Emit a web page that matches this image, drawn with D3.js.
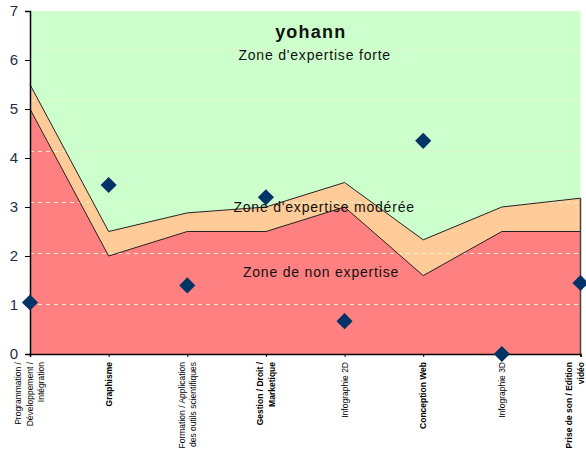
<!DOCTYPE html>
<html><head><meta charset="utf-8">
<script src="https://cdn.jsdelivr.net/npm/d3@7/dist/d3.min.js"></script>
<style>body{margin:0;background:#fff}svg{display:block;font-family:"Liberation Sans",Arial,sans-serif}</style>
</head><body><svg id="c" width="586" height="459"></svg>
<script>
const categories = [
  ["Programmation /","Développement /","Intégration"],
  ["Graphisme"],
  ["Formation / Application","des outils scientifiques"],
  ["Gestion / Droit /","Marketique"],
  ["Infographie 2D"],
  ["Conception Web"],
  ["Infographie 3D"],
  ["Prise de son / Edition","vidéo"]
];
const boldLabels = [false, true, false, true, false, true, false, true];
const nonExpertise = [5.0, 2.0, 2.5, 2.5, 3.0, 1.6, 2.5, 2.5];
const moderate = [5.5, 2.5, 2.88, 3.0, 3.5, 2.33, 3.0, 3.18];
const scores = [1.05, 3.45, 1.4, 3.2, 0.67, 4.35, 0.0, 1.45];
const yTicks = [0,1,2,3,4,5,6,7];
const gridValues = [1.02, 2.06, 3.1, 4.14, 5.18, 6.22, 7.24];
const title = "yohann";
const zoneLabels = [
  {text:"Zone d'expertise forte", v:6.0, i:3.62},
  {text:"Zone d'expertise modérée", v:2.9, i:3.74},
  {text:"Zone de non expertise", v:1.57, i:3.70}
];

const svg = d3.select("#c");
const W=586, L=30, R=580.5, T=11, B=354;
const x = d3.scalePoint().domain(d3.range(categories.length)).range([L,R]);
const y = d3.scaleLinear().domain([0,7]).range([B,T]);
const xi = d3.scaleLinear().domain([0,categories.length-1]).range([L,R]);

svg.append("rect").attr("x",L).attr("y",y(7)).attr("width",R-L).attr("height",y(0)-y(7)).attr("fill","#ccffcc");

const idx = d3.range(categories.length);
const area = arr => d3.area().x(i=>x(i)).y0(y(0)).y1(i=>y(arr[i]));
const line = arr => d3.line().x(i=>x(i)).y(i=>y(arr[i]));
svg.append("path").attr("d",area(moderate)(idx)).attr("fill","#ffcc99");
svg.append("path").attr("d",area(nonExpertise)(idx)).attr("fill","#ff8080");

svg.append("g").selectAll("line").data(gridValues).join("line")
  .attr("x1",L).attr("x2",R).attr("y1",d=>Math.round(y(d))+0.5).attr("y2",d=>Math.round(y(d))+0.5)
  .attr("stroke","#e4f4cc").attr("stroke-width",1.2).attr("stroke-dasharray","4,4");

svg.append("path").attr("d",line(moderate)(idx)).attr("fill","none").attr("stroke","#222").attr("stroke-width",1);
svg.append("path").attr("d",line(nonExpertise)(idx)).attr("fill","none").attr("stroke","#222").attr("stroke-width",1);
svg.append("line").attr("x1",R).attr("x2",R).attr("y1",y(moderate[moderate.length-1])).attr("y2",B).attr("stroke","#444").attr("stroke-width",1.5);

const ya = svg.append("g").attr("transform",`translate(${L},0)`)
  .call(d3.axisLeft(y).tickValues(yTicks).tickSize(5).tickPadding(7).tickFormat(d3.format("d")));
ya.select(".domain").attr("stroke","#000").attr("stroke-width",1.5);
ya.selectAll(".tick line").attr("stroke","#000");
ya.selectAll("text").attr("font-size",15).attr("fill","#1f2d4d").attr("font-family","Liberation Sans, Arial, sans-serif");

const xa = svg.append("g").attr("transform",`translate(0,${B})`)
  .call(d3.axisBottom(x).tickSize(3).tickFormat(""));
xa.select(".domain").attr("stroke","#000").attr("stroke-width",1.5);
xa.selectAll(".tick line").attr("stroke","#000");

const fs = 8.5, lh = 11.5;
categories.forEach((lines,i)=>{
  let cx = x(i);
  const half = (lines.length-1)/2*lh + fs*0.6;
  if (cx + half > W) cx = W - half;
  const t = svg.append("text").attr("transform",`translate(${cx},${B+8}) rotate(-90)`)
    .attr("text-anchor","end").attr("font-size",fs).attr("fill","#000")
    .attr("font-weight",boldLabels[i]?"bold":"normal");
  lines.forEach((ln,k)=>{
    t.append("tspan").attr("x",0).attr("y",(k-(lines.length-1)/2)*lh + fs*0.35).text(ln);
  });
});

svg.append("g").selectAll("path").data(scores).join("path")
  .attr("d",d3.symbol().type(d3.symbolSquare).size(130))
  .attr("transform",(d,i)=>`translate(${x(i)},${y(d)}) rotate(45)`)
  .attr("fill","#003366");

svg.append("text").attr("x",xi(3.57)).attr("y",38).attr("text-anchor","middle")
  .attr("font-size",18).attr("letter-spacing",1.2).attr("font-weight","bold").attr("fill","#111").text(title);
zoneLabels.forEach(z=>{
  svg.append("text").attr("x",xi(z.i)).attr("y",y(z.v)).attr("text-anchor","middle")
    .attr("font-size",14).attr("letter-spacing",0.8).attr("fill","#111").text(z.text);
});
</script></body></html>
